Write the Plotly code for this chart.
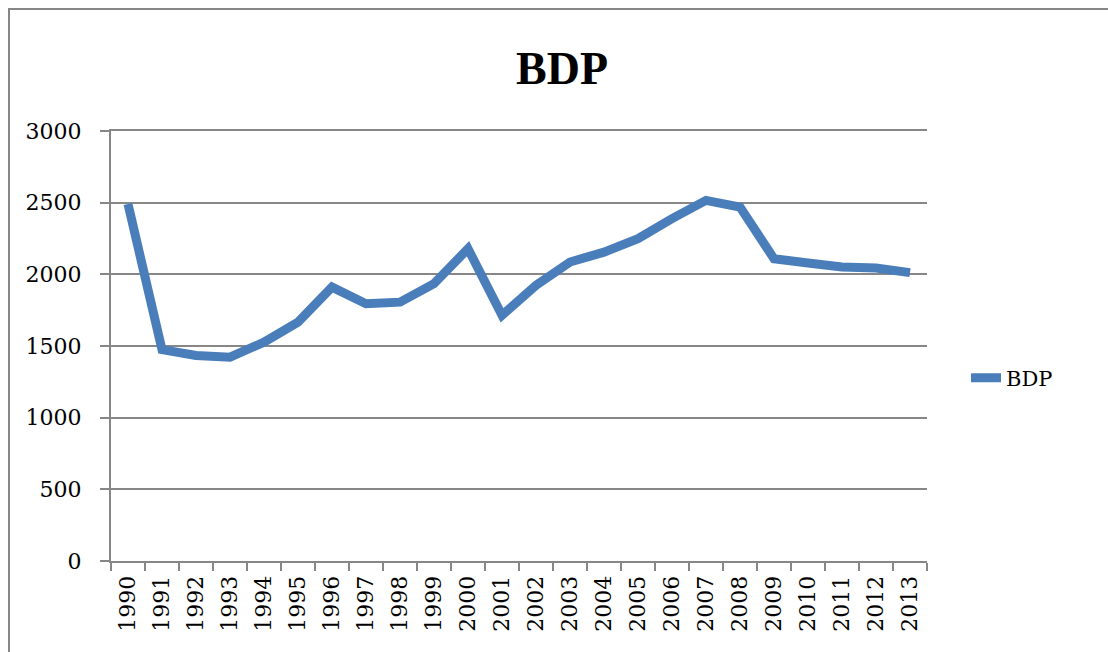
import plotly.graph_objects as go

years = [str(y) for y in range(1990, 2014)]
bdp = [2490, 1475, 1434, 1422, 1527, 1667, 1911, 1795, 1806, 1935, 2179, 1714,
       1923, 2086, 2155, 2249, 2389, 2516, 2469, 2109, 2079, 2051, 2044, 2012]

W, H = 1108, 652
L, R, T, B = 111, 181, 131, 91
pw, ph = W - L - R, H - T - B

def px(x):
    return (x - L) / pw

def py(y):
    return (H - B - y) / ph

grey = "#878787"
serif = "DejaVu Serif"

fig = go.Figure()
fig.add_trace(go.Scatter(x=years, y=bdp, mode="lines", name="BDP",
                         line=dict(color="#4a7ebb", width=9)))

fig.update_layout(
    width=W, height=H,
    margin=dict(l=L, r=R, t=T, b=B),
    paper_bgcolor="white", plot_bgcolor="white",
    title=dict(text="<b>BDP</b>", x=562 / W, xanchor="center",
               y=1 - 68 / H, yanchor="middle",
               font=dict(family="Liberation Serif", size=46, color="black")),
    font=dict(family=serif, size=22, color="black"),
    showlegend=True,
    legend=dict(x=px(966), xanchor="left", y=py(378), yanchor="middle",
                font=dict(family=serif, size=21), bgcolor="rgba(0,0,0,0)"),
    shapes=[dict(type="rect", xref="paper", yref="paper",
                 x0=px(9), x1=px(1120), y0=py(700), y1=py(9),
                 line=dict(color=grey, width=2), layer="below")],
)
fig.update_xaxes(type="category", range=[-0.5, 23.5], tickangle=-90,
                 showgrid=False, showline=True, mirror=True,
                 linecolor=grey, linewidth=2,
                 ticks="outside", tickson="boundaries", ticklen=8,
                 tickcolor=grey, tickwidth=2, ticklabelstandoff=4,
                 tickfont=dict(family=serif, size=22))
fig.update_yaxes(range=[0, 3000], dtick=500, showgrid=True, gridcolor=grey,
                 gridwidth=2, showline=True, linecolor=grey, linewidth=2,
                 ticks="outside", ticklen=9, tickcolor=grey, tickwidth=2,
                 ticklabelstandoff=14, zeroline=False,
                 tickfont=dict(family=serif, size=22))

fig.write_html("out.html", config={"displayModeBar": False},
               post_script="document.body.style.margin='0';")
